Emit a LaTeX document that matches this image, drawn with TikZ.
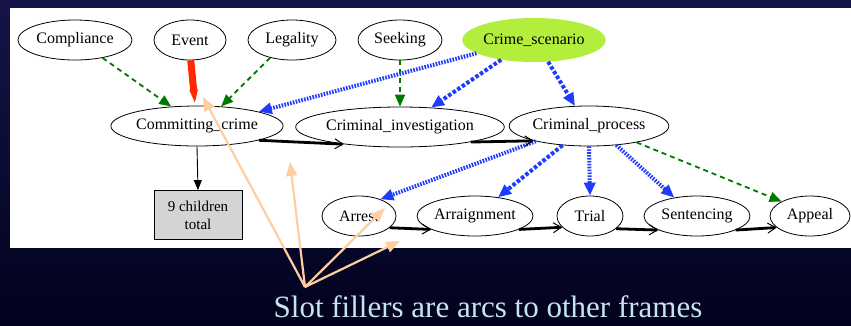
\documentclass[tikz,border=0pt]{standalone}
\usepackage{fontspec}
\setmainfont{Liberation Serif}
\newfontfamily\framefont{Liberation Serif}
\usetikzlibrary{shapes.geometric,arrows.meta}

\definecolor{navytop}{RGB}{22,20,72}
\definecolor{navybot}{RGB}{2,2,30}
\definecolor{limefill}{RGB}{180,238,60}
\definecolor{slotgreen}{RGB}{0,120,0}
\definecolor{slotblue}{RGB}{30,60,255}
\definecolor{slotred}{RGB}{255,40,0}
\definecolor{peach}{RGB}{255,206,160}
\definecolor{captioncol}{RGB}{195,230,235}
\definecolor{boxgray}{RGB}{212,212,212}

\begin{document}
\begin{tikzpicture}[x=1pt,y=-1pt,
  frame/.style={ellipse,draw=black,line width=0.8pt,inner sep=0pt,fill=white,
    minimum height=40pt,font=\fontsize{16}{18}\framefont},
  scenario/.style={ellipse,fill=limefill,inner sep=0pt,minimum height=44pt,
    minimum width=138pt,font=\fontsize{16}{18}\framefont},
  countbox/.style={rectangle,draw=black,line width=0.8pt,fill=boxgray,inner sep=0pt,
    minimum width=88pt,minimum height=49pt,align=center,
    font=\fontsize{15}{18}\framefont},
  greendash/.style={draw=slotgreen,line width=1.8pt,dash pattern=on 5pt off 4pt,
    -{Triangle[length=12pt,width=10pt]}},
  bluedot/.style={draw=slotblue,line width=4pt,dash pattern=on 1.6pt off 1.3pt,
    -{Triangle[length=13pt,width=11pt]}},
  bluedash/.style={draw=slotblue,line width=4pt,dash pattern=on 3.5pt off 2pt,
    -{Triangle[length=13pt,width=11pt]}},
  redarc/.style={draw=slotred,line width=7pt,-{Triangle[length=16pt,width=7pt]}},
  transition/.style={draw=black,line width=2.8pt,
    -{Straight Barb[length=8pt,width=10pt,line width=1pt]}},
  childarrow/.style={draw=black,line width=0.9pt,-{Triangle[length=10pt,width=8pt]}},
  pointer/.style={draw=peach,line width=2.2pt,-{Triangle[length=14pt,width=11pt]}}
]
% backdrop and white panel
\shade[top color=navytop,bottom color=navybot] (0,0) rectangle (851,325);
\useasboundingbox (0,0) rectangle (851,325);
\fill[white] (10,8) rectangle (851,248);

% frames
\node[frame,minimum width=114pt] (comp) at (75,40) {Compliance};
\node[frame,minimum width=72pt] (event) at (190,40) {Event};
\node[frame,minimum width=88pt] (legal) at (292,40) {Legality};
\node[frame,minimum width=84pt] (seek) at (400,40) {Seeking};
\node[scenario] (cs) at (534,40) {Crime\_scenario};
\node[frame,minimum width=160pt] (cc) at (197,126) {Committing\_crime};
\node[frame,minimum width=184pt] (ci) at (400,127) {Criminal\_investigation};
\node[frame,minimum width=146pt] (cp) at (589,126) {Criminal\_process};
\node[countbox] (kids) at (198,215) {9 children\\total};
\node[frame,minimum width=74pt] (arrest) at (359,216) {Arrest};
\node[frame,minimum width=116pt] (arraign) at (475,216) {Arraignment};
\node[frame,minimum width=66pt] (trial) at (590,216) {Trial};
\node[frame,minimum width=106pt] (sent) at (697,216) {Sentencing};
\node[frame,minimum width=80pt] (appeal) at (810,216) {Appeal};

% slot arcs
\draw[greendash] (comp.327) -- (cc.143);
\draw[redarc] (event.272) -- (cc.95);
\draw[greendash] (legal.219) -- (cc.39);
\draw[greendash] (seek.270) -- (ci.90);
\draw[bluedot] (cs.193) -- (cc.13);
\draw[bluedash] (cs.211) -- (ci.32);
\draw[bluedash] (cs.303) -- (cp.125);
\draw[bluedot] (cp.196) -- (arrest.38);
\draw[bluedash] (cp.216) -- (arraign.39);
\draw[bluedot] (cp.270) -- (trial.90);
\draw[bluedot] (cp.325) -- (sent.141);
\draw[greendash] (cp.341) -- (appeal.153);

% temporal order
\draw[transition] (cc.347) -- (ci.197);
\draw[transition] (ci.348) -- (cp.195);
\draw[transition] (arrest.339) -- (arraign.197);
\draw[transition] (arraign.343) -- (trial.202);
\draw[transition] (trial.334) -- (sent.200);
\draw[transition] (sent.340) -- (appeal.199);

% subframe count
\draw[childarrow] (cc.270) -- (kids.90);

% annotation pointers
\coordinate (hub) at (305,287);
\coordinate (tipA) at (203,97);
\coordinate (tipB) at (290,162);
\coordinate (tipC) at (385,208);
\coordinate (tipD) at (400,241);
\draw[pointer] (hub) -- (tipA);
\draw[pointer] (hub) -- (tipB);
\draw[pointer] (hub) -- (tipC);
\draw[pointer] (hub) -- (tipD);

\node[font=\fontsize{31}{34}\framefont,text=captioncol,anchor=base,inner sep=0pt]
  (caption) at (488,317) {Slot fillers are arcs to other frames};
\end{tikzpicture}
\end{document}
